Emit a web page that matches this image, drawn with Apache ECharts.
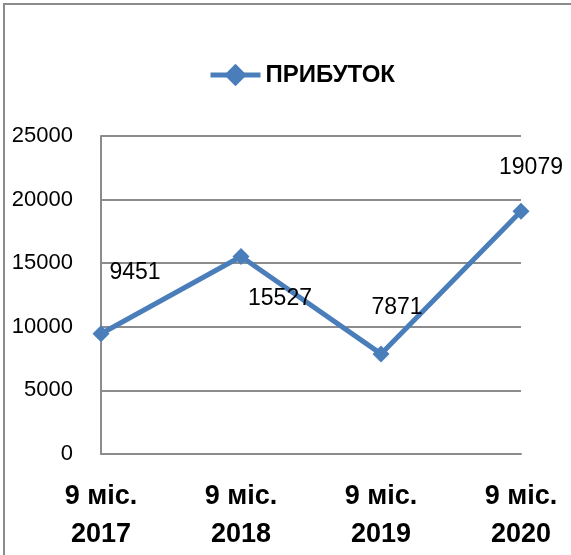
<!DOCTYPE html>
<html lang="uk">
<head>
	<meta charset="UTF-8">
	<script src="https://cdn.jsdelivr.net/npm/echarts@6/dist/echarts.min.js"></script>
	<title>Прибуток</title>
	<style>
		html, body { margin: 0; padding: 0; background: #fff; }
	</style>
</head>
<body>
<div id="chart" style="width: 571px;height:555px;"></div>
<script type="text/javascript">
	// дані
	var categories = ['9 міс.\n2017', '9 міс.\n2018', '9 міс.\n2019', '9 міс.\n2020'];
	var values = [9451, 15527, 7871, 19079];
	var yTicks = [0, 5000, 10000, 15000, 20000, 25000];
	// зсув підписів (як вручну в Excel)
	var labelOffsets = [[34, -61], [39, 42], [16, -46], [10, -44]];

	var blue = '#4a7ebb';
	var gray = '#8c8c8c';
	var font = 'Liberation Sans, Arial, sans-serif';

	var chart = echarts.init(document.getElementById('chart'));

	var seriesData = values.map(function (v, i) {
		return {
			value: v,
			label: {
				show: true,
				position: 'inside',
				offset: labelOffsets[i],
				color: '#000',
				fontSize: 23,
				fontFamily: font
			}
		};
	});

	chart.setOption({
		animation: false,
		graphic: [{
			type: 'rect',
			shape: { x: 4, y: 4, width: 700, height: 700 },
			style: { fill: 'none', stroke: gray, lineWidth: 2 },
			z: -1
		}],
		legend: {
			left: 203,
			top: 58,
			itemWidth: 50,
			itemHeight: 28,
			itemGap: 0,
			lineStyle: { width: 5 },
			textStyle: { fontSize: 24, fontWeight: 'bold', color: '#000', fontFamily: font },
			data: ['ПРИБУТОК']
		},
		grid: { left: 101, right: 50, top: 136, bottom: 101, containLabel: false },
		xAxis: {
			type: 'category',
			data: categories,
			boundaryGap: false,
			axisLine: { show: true, lineStyle: { color: gray, width: 2 } },
			axisTick: { show: false },
			axisLabel: {
				margin: 24,
				fontSize: 27,
				fontWeight: 'bold',
				lineHeight: 38,
				color: '#000',
				fontFamily: font,
				interval: 0
			},
			splitLine: { show: false }
		},
		yAxis: {
			type: 'value',
			min: yTicks[0],
			max: yTicks[yTicks.length - 1],
			interval: 5000,
			axisLine: { show: true, lineStyle: { color: gray, width: 2 } },
			axisTick: { show: false },
			axisLabel: {
				margin: 28, fontSize: 22, color: '#000', fontFamily: font,
				formatter: function (v) { return String(v); }
			},
			splitLine: { show: true, lineStyle: { color: gray, width: 2 } }
		},
		series: [{
			name: 'ПРИБУТОК',
			type: 'line',
			data: seriesData,
			symbol: 'diamond',
			symbolSize: 17,
			lineStyle: { color: blue, width: 5 },
			itemStyle: { color: blue },
			z: 3
		}]
	});
</script>
</body>
</html>
